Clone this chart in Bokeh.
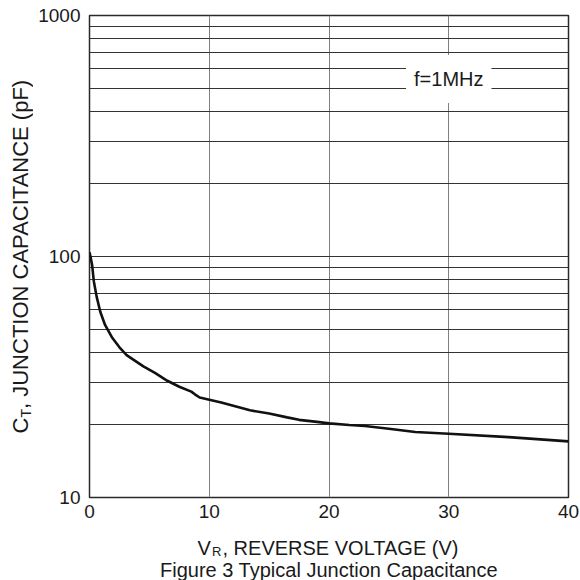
import math
from bokeh.plotting import figure
from bokeh.layouts import column, row
from bokeh.models import Range1d, FixedTicker, Label, NumeralTickFormatter
from bokeh.embed import file_html
from bokeh.resources import INLINE

# ---- data ----
vr = [0, 0.08, 0.22, 0.36, 0.6, 0.9, 1.3, 1.9, 2.5, 3.1, 4.5, 5.5, 6.5, 7.5, 8.5,
      8.8, 9.2, 11, 13.4, 15, 16.5, 17.5, 19, 20, 21.7, 23, 25, 27.2, 30, 35, 40]
ct = [104, 100, 92, 79, 68, 59, 52, 46, 42, 39, 35, 32.8, 30.5, 28.8, 27.5,
      26.8, 26, 24.8, 23, 22.3, 21.5, 21, 20.6, 20.3, 20, 19.8, 19.3, 18.7, 18.4, 17.8, 17.1]

x_ticks = [0, 10, 20, 30, 40]
y_ticks = [10, 100, 1000]
y_minor = [20, 30, 40, 50, 60, 70, 80, 90, 200, 300, 400, 500, 600, 700, 800, 900]

note_text = "f=1MHz"
note_x, note_y = 30, 545
x_label_main = "V"
x_label_sub = "R"
x_label_rest = ", REVERSE VOLTAGE (V)"
y_label_main = "C"
y_label_sub = "T"
y_label_rest = ", JUNCTION CAPACITANCE (pF)"
caption = "Figure 3 Typical Junction Capacitance"

FONT = "Liberation Sans"
TXT = "#1a1a1a"
TOP, BOTTOM = 15, 33

# ---- main chart ----
p = figure(width=547, height=530, y_axis_type="log",
           x_range=Range1d(0, 40), y_range=Range1d(10, 1000),
           output_backend="svg", toolbar_location=None,
           min_border_left=56, min_border_right=12, min_border_top=TOP, min_border_bottom=BOTTOM)
p.background_fill_color = "white"
p.border_fill_color = "white"
p.outline_line_color = "#2a2a2a"
p.outline_line_width = 1.5

p.xaxis.ticker = FixedTicker(ticks=x_ticks)
p.yaxis.ticker = FixedTicker(ticks=y_ticks, minor_ticks=y_minor)
p.yaxis.formatter = NumeralTickFormatter(format="0")
for ax in (p.xaxis, p.yaxis):
    ax.axis_line_color = None
    ax.major_tick_line_color = None
    ax.minor_tick_line_color = None
    ax.major_tick_out = 0
    ax.major_tick_in = 0
    ax.major_label_text_font = FONT
    ax.major_label_text_font_size = "19px"
    ax.major_label_text_color = TXT
p.yaxis.major_label_standoff = 5
p.xaxis.major_label_standoff = 7

p.xgrid.grid_line_color = "#808080"
p.xgrid.grid_line_width = 1
p.ygrid.grid_line_color = "#333333"
p.ygrid.grid_line_width = 1
p.ygrid.minor_grid_line_color = "#333333"
p.ygrid.minor_grid_line_width = 1

p.line(vr, ct, line_color="#111111", line_width=2.6)

p.add_layout(Label(x=note_x, y=note_y, text=note_text, text_font=FONT,
                   text_font_size="20px", text_color=TXT, text_align="center",
                   text_baseline="middle", background_fill_color="white",
                   padding=(8, 13)))


def blank(w, h, **kw):
    f = figure(width=w, height=h, x_range=Range1d(0, 1), y_range=Range1d(0, 1),
               output_backend="svg", toolbar_location=None,
               x_axis_location=None, y_axis_location=None, **kw)
    f.outline_line_color = None
    f.grid.visible = False
    f.background_fill_color = "white"
    f.border_fill_color = "white"
    return f


def lab(f, x, y, text, size="20px", **kw):
    f.add_layout(Label(x=x, y=y, x_units="screen", y_units="screen", text=text,
                       text_font=FONT, text_font_size=size, text_color=TXT, **kw))


# ---- y axis title (left strip); its frame lines up with the chart frame ----
yf = blank(33, 530, min_border_left=0, min_border_right=0,
           min_border_top=TOP, min_border_bottom=BOTTOM)
a = math.pi / 2
lab(yf, 20, 64, y_label_main, size="22px", angle=a, text_align="left", text_baseline="alphabetic")
lab(yf, 25, 79.9, y_label_sub, size="14px", angle=a, text_align="left", text_baseline="alphabetic")
lab(yf, 20, 88.5, y_label_rest, size="22px", angle=a, text_align="left", text_baseline="alphabetic")

# ---- x axis title and caption (bottom strip, 580 x 50) ----
xf = blank(580, 50, min_border=0)
lab(xf, 197, 33, x_label_main, text_align="left", text_baseline="alphabetic")
lab(xf, 211.5, 28.6, x_label_sub, size="13px", text_align="left", text_baseline="alphabetic")
lab(xf, 222, 33, x_label_rest, text_align="left", text_baseline="alphabetic")
lab(xf, 328.5, 11, caption, text_align="center", text_baseline="alphabetic")

layout = column(row(yf, p), xf)
open("out.html", "w").write(file_html(layout, INLINE))
